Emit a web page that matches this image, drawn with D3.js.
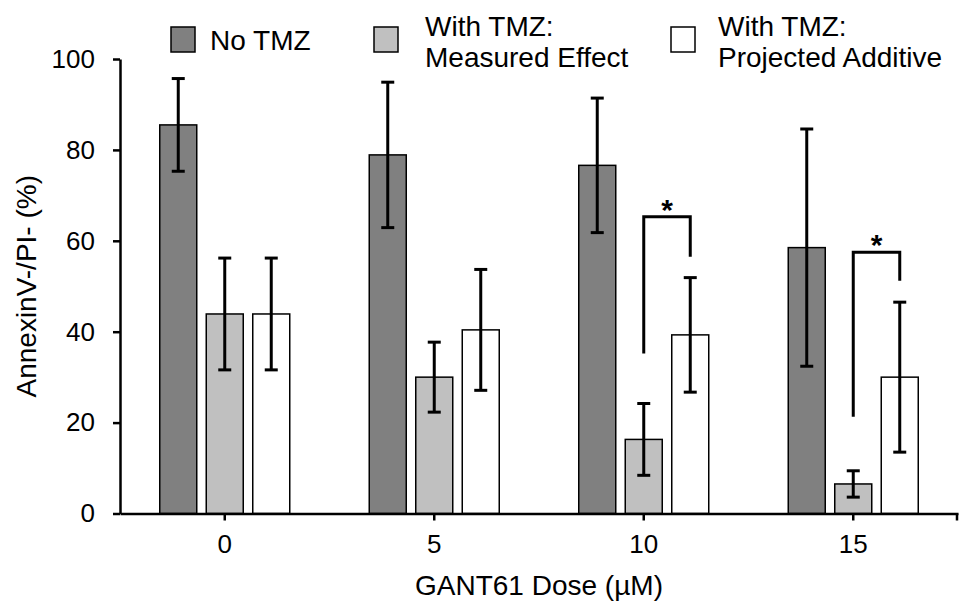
<!DOCTYPE html>
<html lang="en">
<head>
<meta charset="utf-8">
<title>GANT61 dose bar chart</title>
<script src="https://d3js.org/d3.v7.min.js"></script>
<style>
  body { margin: 0; background: #fff; }
  text { font-family: "Liberation Sans", Arial, sans-serif; fill: #000; }
</style>
</head>
<body>
<script>
// data
var doses = ["0", "5", "10", "15"];
var seriesNames = ["No TMZ", "With TMZ:\nMeasured Effect", "With TMZ:\nProjected Additive"];
var seriesColors = ["#808080", "#c0c0c0", "#ffffff"];
var noTmz = [85.5, 78.9, 76.6, 58.5];
var noTmzErr = [10.2, 16.0, 14.8, 26.1];
var measured = [43.9, 30.0, 16.3, 6.5];
var measuredErr = [12.3, 7.7, 7.9, 2.9];
var projected = [43.9, 40.4, 39.3, 30.0];
var projectedErr = [12.3, 13.3, 12.6, 16.5];
var yTicks = [0, 20, 40, 60, 80, 100];
// significance brackets: [dose, top, left end, right end]
var brackets = [["10", 65.3, 35.2, 56.5], ["15", 57.5, 21.3, 51.2]];

var width = 959, height = 606;
var svg = d3.select("body").append("svg")
    .attr("width", width)
    .attr("height", height);

var x = d3.scaleBand().domain(doses).range([120, 958]);
var y = d3.scaleLinear().domain([0, 100]).range([513.5, 59]);

var barW = 37, step = 46.5;
var offsets = [-step, 0, step];
var values = [noTmz, measured, projected];
var errors = [noTmzErr, measuredErr, projectedErr];

function cx(d, s) { return x(d) + x.bandwidth() / 2 + offsets[s]; }

// bars
values.forEach(function(vals, s) {
    svg.append("g").selectAll("rect")
        .data(doses)
        .enter().append("rect")
        .attr("x", function(d) { return cx(d, s) - barW / 2; })
        .attr("y", function(d, i) { return y(vals[i]); })
        .attr("width", barW)
        .attr("height", function(d, i) { return y(0) - y(vals[i]); })
        .attr("fill", seriesColors[s])
        .attr("stroke", "#000")
        .attr("stroke-width", 1.5);
});

// error bars
values.forEach(function(vals, s) {
    var g = svg.append("g").attr("stroke", "#000").attr("stroke-width", 3);
    doses.forEach(function(d, i) {
        var c = cx(d, s), hi = y(vals[i] + errors[s][i]), lo = y(vals[i] - errors[s][i]);
        g.append("line").attr("x1", c).attr("x2", c).attr("y1", hi).attr("y2", lo);
        g.append("line").attr("x1", c - 6.5).attr("x2", c + 6.5).attr("y1", hi).attr("y2", hi);
        g.append("line").attr("x1", c - 6.5).attr("x2", c + 6.5).attr("y1", lo).attr("y2", lo);
    });
});

// significance brackets
brackets.forEach(function(b) {
    var l = cx(b[0], 1), r = cx(b[0], 2);
    svg.append("path")
        .attr("d", "M" + l + "," + y(b[2]) + "V" + y(b[1]) + "H" + r + "V" + y(b[3]))
        .attr("fill", "none")
        .attr("stroke", "#000")
        .attr("stroke-width", 3);
    svg.append("text")
        .attr("x", (l + r) / 2)
        .attr("y", y(b[1]) + 3)
        .attr("text-anchor", "middle")
        .attr("font-size", "30px")
        .attr("font-weight", "bold")
        .text("*");
});

// y axis
var yAxis = svg.append("g")
    .attr("transform", "translate(120,0)")
    .call(d3.axisLeft(y).tickValues(yTicks).tickSize(7).tickSizeOuter(0).tickPadding(18));
yAxis.select(".domain").attr("stroke-width", 2.5);
yAxis.selectAll(".tick line").attr("stroke-width", 2.5);
yAxis.selectAll(".tick text").attr("font-size", "26px").attr("font-family", "Liberation Sans, Arial, sans-serif");

// x axis
var xAxis = svg.append("g")
    .attr("transform", "translate(0," + y(0) + ")")
    .call(d3.axisBottom(x).tickSize(7).tickSizeOuter(0).tickPadding(14));
xAxis.select(".domain").attr("stroke-width", 2.5);
xAxis.selectAll(".tick line").attr("stroke-width", 2.5);
xAxis.selectAll(".tick text").attr("font-size", "26px").attr("font-family", "Liberation Sans, Arial, sans-serif");
xAxis.append("line")
    .attr("x1", x.range()[1] - 1).attr("x2", x.range()[1] - 1)
    .attr("y1", 0).attr("y2", 7)
    .attr("stroke", "#000").attr("stroke-width", 2.5);

// axis titles
svg.append("text")
    .attr("x", (x.range()[0] + x.range()[1]) / 2)
    .attr("y", 595)
    .attr("text-anchor", "middle")
    .attr("font-size", "28px")
    .text("GANT61 Dose (µM)");

svg.append("text")
    .attr("transform", "translate(36," + (y(0) + y(100)) / 2 + ") rotate(-90)")
    .attr("text-anchor", "middle")
    .attr("font-size", "28px")
    .text("AnnexinV-/PI- (%)");

// legend
var legendX = [171, 374, 671];
var legendTextX = [39, 51, 47];
var legend = svg.append("g").selectAll("g")
    .data(seriesNames)
    .enter().append("g")
    .attr("transform", function(d, i) { return "translate(" + legendX[i] + ",27)"; });

legend.append("rect")
    .attr("width", 24)
    .attr("height", 25)
    .attr("fill", function(d, i) { return seriesColors[i]; })
    .attr("stroke", "#000")
    .attr("stroke-width", 1.5);

legend.each(function(d, i) {
    var lines = d.split("\n");
    var t = d3.select(this).append("text")
        .attr("font-size", "28px");
    lines.forEach(function(line, k) {
        t.append("tspan")
            .attr("x", legendTextX[i])
            .attr("y", lines.length > 1 ? 9 + k * 31 : 23)
            .text(line);
    });
});
</script>
</body>
</html>
